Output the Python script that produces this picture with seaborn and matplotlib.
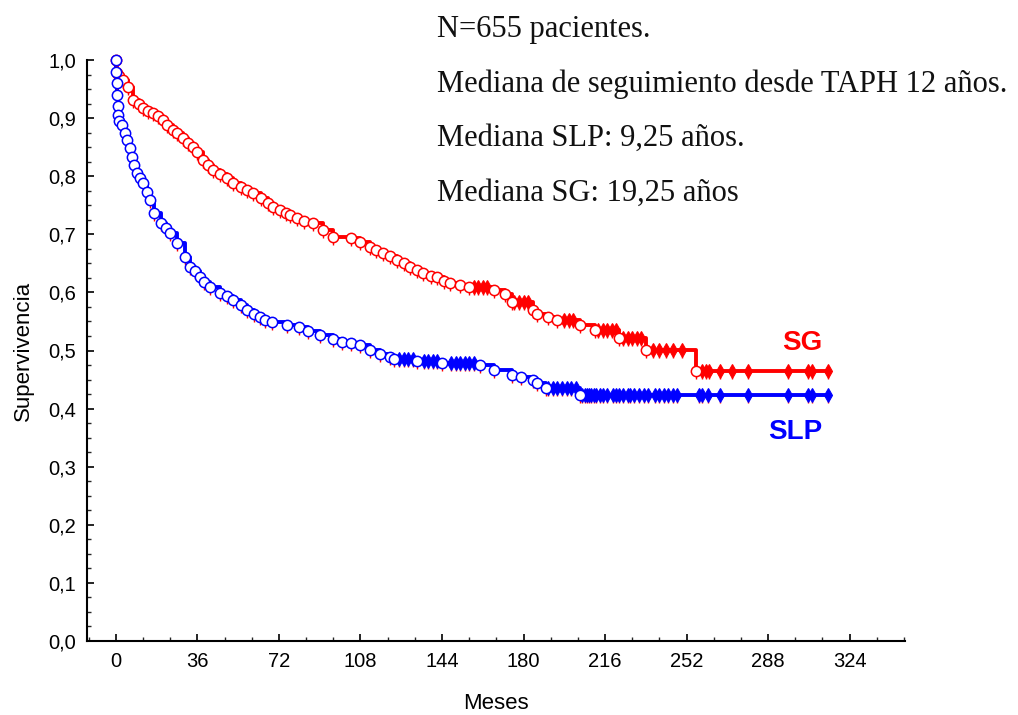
import numpy as np
import pandas as pd
import matplotlib
matplotlib.use("Agg")
import matplotlib.pyplot as plt
import seaborn as sns
from matplotlib.ticker import MultipleLocator, FuncFormatter

# ---------------- data ----------------
sg_time = [0, 0.4, 1.5, 3, 5.3, 7.5, 10, 12, 14, 16.3, 18.5, 20.8, 22.5, 25, 27, 29.6,
           32, 34, 36, 38.4, 40.5, 43, 46, 49, 51.7, 55, 58, 60.5, 64, 67, 69.3, 72.4,
           75, 77, 80, 83, 87, 91.4, 96, 104, 108, 112, 115, 118, 121, 124, 127, 130,
           133, 135.6, 139, 141.8, 145, 147.5, 152, 156, 167, 172, 175, 184, 186, 191,
           195, 205, 211.6, 222, 234, 256]
sg_surv = [1.0, 0.978, 0.972, 0.966, 0.954, 0.931, 0.924, 0.917, 0.913, 0.909, 0.903,
           0.897, 0.888, 0.880, 0.874, 0.866, 0.858, 0.850, 0.842, 0.828, 0.820, 0.811,
           0.803, 0.797, 0.788, 0.781, 0.776, 0.771, 0.762, 0.754, 0.747, 0.741, 0.736,
           0.733, 0.728, 0.723, 0.719, 0.707, 0.696, 0.694, 0.687, 0.678, 0.673, 0.668,
           0.662, 0.656, 0.650, 0.644, 0.638, 0.633, 0.629, 0.626, 0.620, 0.616, 0.613,
           0.609, 0.604, 0.598, 0.583, 0.570, 0.562, 0.558, 0.552, 0.544, 0.535, 0.522,
           0.501, 0.465]
sg_cens = [158, 160, 162, 164, 176, 178, 180, 182, 198, 200, 202, 213, 215, 217, 219,
           221, 224, 226, 228, 230, 232, 237, 240, 243, 246, 250, 259, 260.5, 262, 267,
           272, 279, 297, 305.5, 307.5, 314.5]

slp_time = [0, 0.2, 0.4, 0.6, 0.8, 1.0, 1.5, 2.6, 4, 4.9, 6, 7, 8, 9.3, 10.5, 12, 13.5,
            15, 17, 20, 22, 24, 27, 30.5, 32.7, 35, 37, 39, 41.5, 46, 49, 51.7, 55, 58,
            61, 63.6, 66, 69, 75.5, 81, 85, 90, 96, 100, 104, 108, 112, 116.6, 121, 123,
            133, 144, 161, 167, 175, 179, 184, 186, 190, 205]
slp_surv = [1.0, 0.98, 0.96, 0.94, 0.92, 0.905, 0.895, 0.888, 0.875, 0.862, 0.848, 0.833,
            0.820, 0.805, 0.797, 0.788, 0.773, 0.759, 0.737, 0.719, 0.710, 0.702, 0.685,
            0.661, 0.644, 0.636, 0.627, 0.618, 0.609, 0.599, 0.593, 0.587, 0.578, 0.570,
            0.563, 0.558, 0.553, 0.549, 0.544, 0.540, 0.533, 0.527, 0.520, 0.515, 0.513,
            0.509, 0.501, 0.494, 0.489, 0.485, 0.482, 0.478, 0.475, 0.466, 0.458, 0.454,
            0.449, 0.444, 0.435, 0.423]
slp_cens = [125, 127, 129, 131, 136, 138, 140, 142, 148, 150, 152, 154, 156, 158, 191, 193,
            195, 197, 199, 201, 203, 206, 207, 208, 209, 210, 211, 212, 214, 215, 217,
            219.5, 221, 222, 224, 226, 227, 229, 231, 233, 235, 238, 240, 242, 244, 246,
            248, 257.5, 259, 261.5, 267, 279, 297, 305.5, 307.5, 314.5]

end_time = 315
x_ticks = [0, 36, 72, 108, 144, 180, 216, 252, 288, 324]
y_ticks = [0.0, 0.1, 0.2, 0.3, 0.4, 0.5, 0.6, 0.7, 0.8, 0.9, 1.0]
notes = ["N=655 pacientes.",
         "Mediana de seguimiento desde TAPH 12 años.",
         "Mediana SLP: 9,25 años.",
         "Mediana SG: 19,25 años"]

RED = "#ff0000"
BLUE = "#0000ff"

sns.set_theme(style="white")
plt.rcParams["font.family"] = ["Liberation Sans", "DejaVu Sans"]

fig = plt.figure(figsize=(10.18, 7.15), dpi=100)
ax = fig.add_axes([87/1018, 1-641/715, (905-87)/1018, (641-60)/715])


def step_value(times, surv, t):
    idx = np.searchsorted(np.asarray(times), t, side="right") - 1
    return np.asarray(surv)[idx]


for times, surv, cens, col in [(sg_time, sg_surv, sg_cens, RED),
                               (slp_time, slp_surv, slp_cens, BLUE)]:
    line_df = pd.DataFrame({"t": list(times) + [end_time],
                            "s": list(surv) + [surv[-1]]})
    sns.lineplot(data=line_df, x="t", y="s", ax=ax, color=col, lw=2.8,
                 drawstyle="steps-post", estimator=None, sort=False, zorder=3)
    ev = pd.DataFrame({"t": times, "s": surv})
    cdf = pd.DataFrame({"t": cens, "s": step_value(times, surv, cens)})
    # censor ticks (red, hanging below)
    ax.plot(ev["t"], ev["s"], ls="none", marker=3, ms=6, mew=1.0, color=RED,
            zorder=4, clip_on=False)
    ax.plot(cdf["t"], cdf["s"], ls="none", marker=3, ms=6, mew=1.0, color=RED,
            zorder=4, clip_on=False)
    ax.plot(cdf["t"], cdf["s"], ls="none", marker="d", ms=7, mew=0.8,
            color=col, zorder=5, clip_on=False)
    sns.scatterplot(data=ev, x="t", y="s", ax=ax, s=55, facecolor="white",
                    edgecolor=col, linewidth=1.1, zorder=6, clip_on=False)

ax.set_xlim(-12.8, 348.5)
ax.set_ylim(0, 1.0)
ax.set_xticks(x_ticks)
ax.set_yticks(y_ticks)
ax.xaxis.set_minor_locator(MultipleLocator(12))
ax.yaxis.set_minor_locator(MultipleLocator(0.025))
ax.yaxis.set_major_formatter(FuncFormatter(lambda v, p: f"{v:.1f}".replace(".", ",")))
ax.tick_params(axis="both", which="major", direction="in", length=5, width=1.2,
               labelsize=14.5, colors="black", pad=8)
ax.tick_params(axis="both", which="minor", direction="in", length=3, width=1.0)
ax.tick_params(axis="x", which="both", bottom=True)
ax.tick_params(axis="y", which="both", left=True)
for side in ["top", "right"]:
    ax.spines[side].set_visible(False)
for side in ["left", "bottom"]:
    ax.spines[side].set_color("black")
    ax.spines[side].set_linewidth(1.5)
ax.set_xlabel("Meses", fontsize=16, labelpad=16, color="black")
ax.set_ylabel("Supervivencia", fontsize=16, labelpad=10, color="black")
ax.grid(False)

ax.text(303, 0.513, "SG", color=RED, fontsize=20, fontweight="bold",
        ha="center", va="center")
ax.text(300, 0.360, "SLP", color=BLUE, fontsize=20, fontweight="bold",
        ha="center", va="center")

for i, txt in enumerate(notes):
    fig.text(437/1018, 1 - (30 + 54.3*i)/715, txt, fontsize=22,
             family=["Liberation Serif", "DejaVu Serif"], va="center", ha="left",
             color="#111111")

fig.savefig("out.png", dpi=100, facecolor="white")
